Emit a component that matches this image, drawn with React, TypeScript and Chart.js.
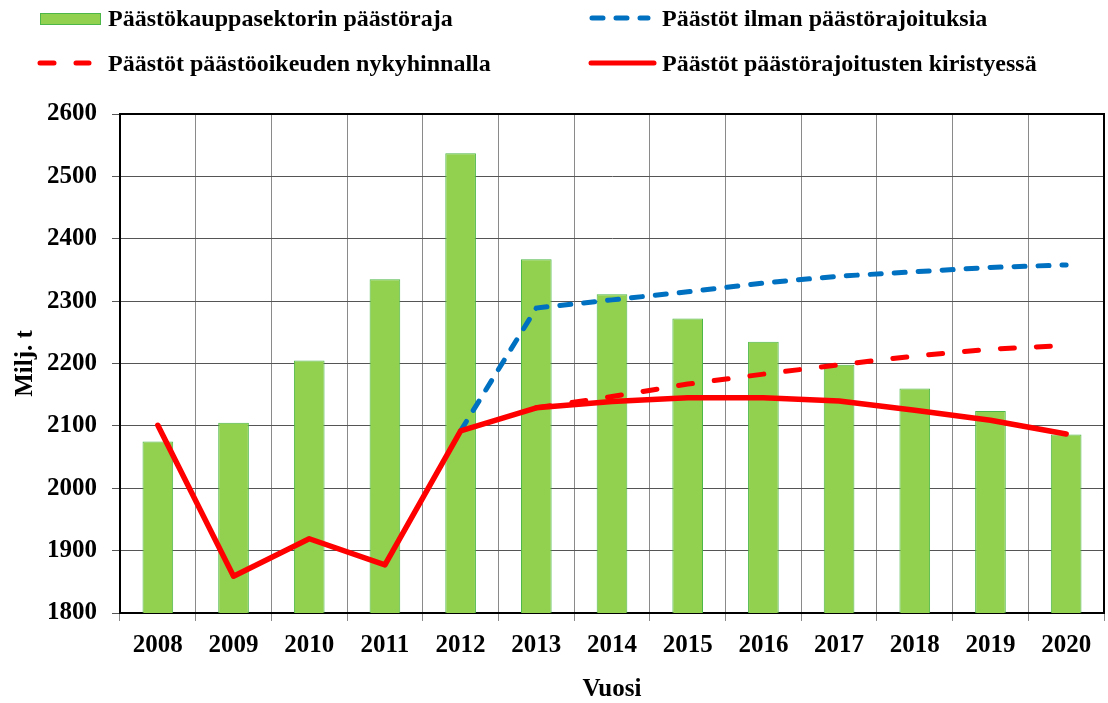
import React, { useEffect, useRef } from "react";
import { Chart, registerables } from "chart.js";

Chart.register(...registerables);

const years = ["2008", "2009", "2010", "2011", "2012", "2013", "2014", "2015", "2016", "2017", "2018", "2019", "2020"];
const capValues = [2075, 2105, 2205, 2335, 2537, 2367, 2311, 2272, 2235, 2198, 2160, 2124, 2086];
const noLimitValues = [null, null, null, null, 2092, 2289, 2302, 2315, 2329, 2340, 2347, 2354, 2358];
const currentPriceValues = [null, null, null, null, null, 2129, 2147, 2167, 2183, 2198, 2212, 2223, 2229];
const tighteningValues = [2101, 1859, 1919, 1877, 2092, 2129, 2139, 2145, 2145, 2140, 2125, 2109, 2087];

const labelCap = "Päästökauppasektorin päästöraja";
const labelNoLimit = "Päästöt ilman päästörajoituksia";
const labelCurrent = "Päästöt päästöoikeuden nykyhinnalla";
const labelTight = "Päästöt päästörajoitusten kiristyessä";

const FONT = "'Liberation Serif', 'Times New Roman', serif";

const legendPlugin = {
  id: "customLegend",
  afterDraw(chart: any) {
    const ctx = chart.ctx;
    const ds = chart.data.datasets;
    ctx.save();
    const a = chart.chartArea;
    ctx.strokeStyle = "#000";
    ctx.lineWidth = 2;
    ctx.beginPath();
    ctx.moveTo(a.left, a.top);
    ctx.lineTo(a.right, a.top);
    ctx.lineTo(a.right, a.bottom);
    ctx.stroke();

    ctx.font = "bold 24px " + FONT;
    ctx.fillStyle = "#000";
    ctx.textBaseline = "middle";
    ctx.textAlign = "left";

    ctx.fillStyle = ds[0].backgroundColor;
    ctx.fillRect(40, 13, 61, 12);
    ctx.strokeStyle = ds[0].borderColor;
    ctx.lineWidth = 1;
    ctx.strokeRect(40.5, 13.5, 60, 11);
    ctx.fillStyle = "#000";
    ctx.fillText(ds[0].label, 108, 20);

    ctx.strokeStyle = ds[1].borderColor;
    ctx.lineWidth = 5;
    ctx.lineCap = "round";
    ctx.setLineDash(ds[1].borderDash);
    ctx.beginPath();
    ctx.moveTo(592, 18);
    ctx.lineTo(648, 18);
    ctx.stroke();
    ctx.fillText(ds[1].label, 662, 20);

    ctx.strokeStyle = ds[2].borderColor;
    ctx.setLineDash(ds[2].borderDash);
    ctx.beginPath();
    ctx.moveTo(40, 63);
    ctx.lineTo(89, 63);
    ctx.stroke();
    ctx.fillText(ds[2].label, 108, 65);

    ctx.strokeStyle = ds[3].borderColor;
    ctx.setLineDash([]);
    ctx.beginPath();
    ctx.moveTo(591, 63);
    ctx.lineTo(654, 63);
    ctx.stroke();
    ctx.fillText(ds[3].label, 662, 65);
    ctx.restore();
  },
};

export default function App() {
  const ref = useRef<HTMLCanvasElement>(null);
  useEffect(() => {
    if (!ref.current) return;
    const chart = new Chart(ref.current, {
      type: "bar",
      data: {
        labels: years,
        datasets: [
          {
            type: "bar",
            label: labelCap,
            data: capValues,
            backgroundColor: "#92D050",
            borderColor: "#4DB848",
            borderWidth: 1,
            barPercentage: 0.405,
            categoryPercentage: 1,
            order: 10,
          },
          {
            type: "line",
            label: labelNoLimit,
            data: noLimitValues as any,
            borderColor: "#0070C0",
            backgroundColor: "#0070C0",
            borderWidth: 5,
            borderDash: [11, 13],
            borderCapStyle: "round",
            pointRadius: 0,
            tension: 0,
            order: 2,
          },
          {
            type: "line",
            label: labelCurrent,
            data: currentPriceValues as any,
            borderColor: "#FF0000",
            backgroundColor: "#FF0000",
            borderWidth: 5,
            borderDash: [14, 22],
            borderCapStyle: "round",
            pointRadius: 0,
            tension: 0,
            order: 3,
          },
          {
            type: "line",
            label: labelTight,
            data: tighteningValues,
            borderColor: "#FF0000",
            backgroundColor: "#FF0000",
            borderWidth: 5.5,
            borderCapStyle: "round",
            borderJoinStyle: "round",
            pointRadius: 0,
            tension: 0,
            order: 1,
          },
        ],
      },
      options: {
        responsive: false,
        animation: false,
        layout: { padding: { top: 114, right: 4, left: 11, bottom: 0 } },
        plugins: {
          legend: { display: false },
          tooltip: { enabled: false },
        },
        scales: {
          x: {
            grid: { color: "#8a8a8a", lineWidth: 1, offset: true, tickLength: 8 },
            border: { color: "#000", width: 2 },
            ticks: { color: "#000", font: { family: FONT, size: 25, weight: "bold" }, padding: 10, maxRotation: 0 },
            title: { display: true, text: "Vuosi", color: "#000", font: { family: FONT, size: 25, weight: "bold", lineHeight: 1.1 }, padding: 0 },
            afterFit(scale: any) { scale.height = 90; },
          },
          y: {
            min: 1800,
            max: 2600,
            grid: { color: "#555", lineWidth: 1, tickLength: 8 },
            border: { color: "#000", width: 2 },
            ticks: {
              stepSize: 100,
              color: "#000",
              font: { family: FONT, size: 25, weight: "bold" },
              padding: 15,
              callback: (v: any) => String(v),
            },
            title: { display: true, text: "Milj. t", color: "#000", font: { family: FONT, size: 25, weight: "bold", lineHeight: 1.2 }, padding: 0 },
            afterFit(scale: any) { scale.width = 109; },
          },
        },
      },
      plugins: [legendPlugin],
    } as any);
    return () => chart.destroy();
  }, []);
  return (
    <div style={{ position: "fixed", left: 0, top: 0, width: 1108, height: 703, background: "#fff" }}>
      <canvas ref={ref} width={1108} height={703} style={{ width: 1108, height: 703, display: "block" }} />
    </div>
  );
}
